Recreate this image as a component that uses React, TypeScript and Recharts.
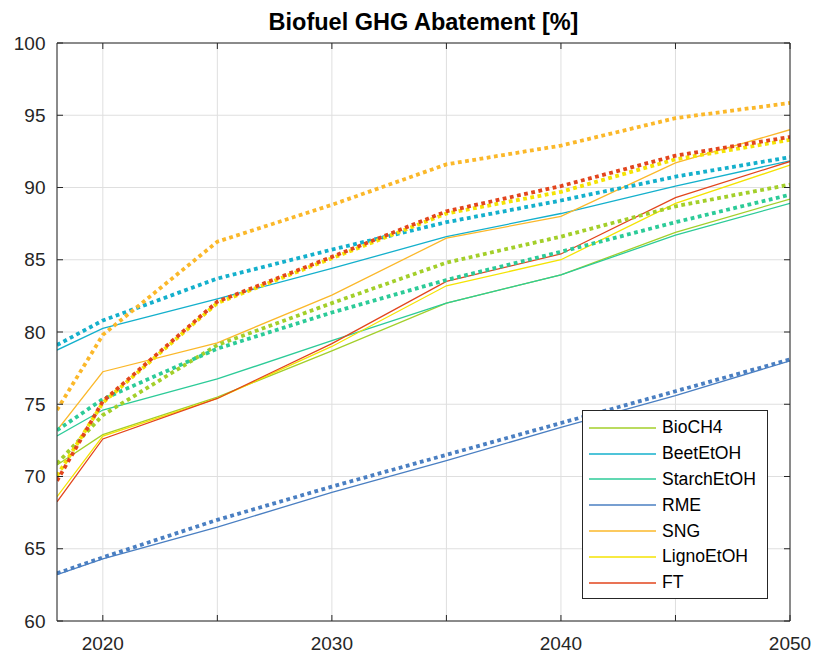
import { LineChart, Line, XAxis, YAxis, CartesianGrid, Legend } from "recharts";

// Sample years and axis ticks
const years = [2018, 2020, 2025, 2030, 2035, 2040, 2045, 2050];
const xTicks = [2020, 2025, 2030, 2035, 2040, 2045, 2050];
const yTicks = [60, 65, 70, 75, 80, 85, 90, 95, 100];

const seriesNames = ["BioCH4", "BeetEtOH", "StarchEtOH", "RME", "SNG", "LignoEtOH", "FT"];
const seriesColors = ["#a3cf2a", "#14b0cc", "#2ccb98", "#4a7fc2", "#fbb82a", "#f4e303", "#e2451d"];

// Solid lines
const bioch4 = [70.8, 72.9, 75.5, 78.7, 82.0, 83.95, 86.9, 89.2];
const beetEtoh = [78.75, 80.25, 82.3, 84.4, 86.6, 88.2, 90.1, 91.85];
const starchEtoh = [72.8, 74.6, 76.75, 79.4, 82.0, 83.95, 86.7, 88.9];
const rme = [63.2, 64.3, 66.5, 68.9, 71.1, 73.4, 75.6, 78.0];
const sng = [73.2, 77.25, 79.25, 82.55, 86.5, 88.0, 91.7, 94.0];
const lignoEtoh = [68.6, 72.8, 75.4, 79.0, 83.2, 85.0, 88.9, 91.55];
const ft = [68.25, 72.6, 75.4, 79.2, 83.5, 85.4, 89.3, 91.8];

// Dotted lines
const bioch4Dot = [70.9, 74.25, 79.1, 82.0, 84.8, 86.6, 88.7, 90.2];
const beetEtohDot = [79.1, 80.8, 83.7, 85.7, 87.6, 89.1, 90.75, 92.1];
const starchEtohDot = [73.2, 75.35, 78.85, 81.35, 83.6, 85.55, 87.6, 89.5];
const rmeDot = [63.3, 64.4, 67.0, 69.3, 71.5, 73.7, 75.9, 78.1];
const sngDot = [74.6, 79.8, 86.25, 88.8, 91.6, 92.9, 94.8, 95.85];
const lignoEtohDot = [70.05, 75.1, 82.0, 85.1, 88.2, 89.7, 91.95, 93.3];
const ftDot = [69.7, 75.2, 82.1, 85.2, 88.35, 90.1, 92.2, 93.5];

const solid = [bioch4, beetEtoh, starchEtoh, rme, sng, lignoEtoh, ft];
const dotted = [bioch4Dot, beetEtohDot, starchEtohDot, rmeDot, sngDot, lignoEtohDot, ftDot];

const rows = years.map((year, i) => {
  const row: Record<string, number> = { year };
  seriesNames.forEach((name, k) => {
    row[name] = solid[k][i];
    row[name + "_dot"] = dotted[k][i];
  });
  return row;
});

const AXIS = "#262626";
const GRID = "#dfdfdf";

function LegendBox({ payload }: any) {
  // keep plotting order, not the alphabetical default
  const items = (payload || [])
    .filter((p: any) => p.type !== "none" && seriesNames.includes(p.value))
    .sort((a: any, b: any) => seriesNames.indexOf(a.value) - seriesNames.indexOf(b.value));
  return (
    <div
      style={{
        position: "relative",
        width: 186,
        height: 189,
        boxSizing: "border-box",
        border: `1px solid ${AXIS}`,
        background: "#fff",
      }}
    >
      {items.map((item: any, i: number) => (
        <div
          key={item.value}
          style={{
            position: "absolute",
            left: 0,
            top: 3.7 + i * 25.85,
            height: 26,
            display: "flex",
            alignItems: "center",
          }}
        >
          <svg width={74} height={26} style={{ display: "block" }}>
            <line x1={6} x2={73} y1={13} y2={13} stroke={item.color} strokeWidth={1.3} />
          </svg>
          <span style={{ marginLeft: 5, fontSize: 17.6, color: "#000", whiteSpace: "nowrap" }}>
            {item.value}
          </span>
        </div>
      ))}
    </div>
  );
}

export default function App() {
  return (
    <div
      style={{
        position: "absolute",
        left: 0,
        top: 0,
        width: 816,
        height: 657,
        background: "#fff",
        fontFamily: '"Liberation Sans", Arial, Helvetica, sans-serif',
      }}
    >
      <div
        style={{
          position: "absolute",
          left: 57,
          width: 733,
          top: 10.6,
          textAlign: "center",
          fontWeight: "bold",
          fontSize: 23.5,
          lineHeight: 1,
          color: "#000",
        }}
      >
        Biofuel GHG Abatement [%]
      </div>
      <LineChart width={816} height={657} data={rows} margin={{ top: 42, right: 25, bottom: 0, left: 0 }}>
        <CartesianGrid xAxisId="b" yAxisId="l" stroke={GRID} strokeWidth={1} />
        <XAxis
          xAxisId="b"
          dataKey="year"
          type="number"
          domain={[2018, 2050]}
          allowDataOverflow
          ticks={xTicks}
          interval={0}
          height={36}
          tickSize={-6}
          tickMargin={21.5}
          stroke={AXIS}
          tick={{ fill: AXIS, fontSize: 19 }}
          tickFormatter={(v: number) => (v % 10 === 0 ? String(v) : "")}
        />
        <XAxis
          xAxisId="t"
          orientation="top"
          dataKey="year"
          type="number"
          domain={[2018, 2050]}
          allowDataOverflow
          ticks={xTicks}
          interval={0}
          height={1}
          tickSize={-6}
          stroke={AXIS}
          tick={{ fill: AXIS, fontSize: 1 }}
          tickFormatter={() => ""}
        />
        <YAxis
          yAxisId="l"
          type="number"
          domain={[60, 100]}
          allowDataOverflow
          ticks={yTicks}
          interval={0}
          width={57}
          tickSize={-6}
          tickMargin={17.5}
          stroke={AXIS}
          tick={{ fill: AXIS, fontSize: 19 }}
        />
        <YAxis
          yAxisId="r"
          orientation="right"
          type="number"
          domain={[60, 100]}
          allowDataOverflow
          ticks={yTicks}
          interval={0}
          width={1}
          tickSize={-6}
          stroke={AXIS}
          tick={{ fill: AXIS, fontSize: 1 }}
          tickFormatter={() => ""}
        />
        <Legend
          layout="vertical"
          align="center"
          verticalAlign="middle"
          wrapperStyle={{ left: 582, top: 410, width: 186, height: 189 }}
          content={<LegendBox />}
        />
        {seriesNames.map((name, k) => (
          <Line
            key={name}
            xAxisId="b"
            yAxisId="l"
            type="linear"
            dataKey={name}
            name={name}
            stroke={seriesColors[k]}
            strokeWidth={1.3}
            dot={false}
            activeDot={false}
            isAnimationActive={false}
          />
        ))}
        {seriesNames.map((name, k) => (
          <Line
            key={name + "_dot"}
            xAxisId="b"
            yAxisId="l"
            type="linear"
            dataKey={name + "_dot"}
            legendType="none"
            stroke={seriesColors[k]}
            strokeWidth={3.8}
            strokeDasharray="3.8 3.5"
            dot={false}
            activeDot={false}
            isAnimationActive={false}
          />
        ))}
      </LineChart>
    </div>
  );
}
